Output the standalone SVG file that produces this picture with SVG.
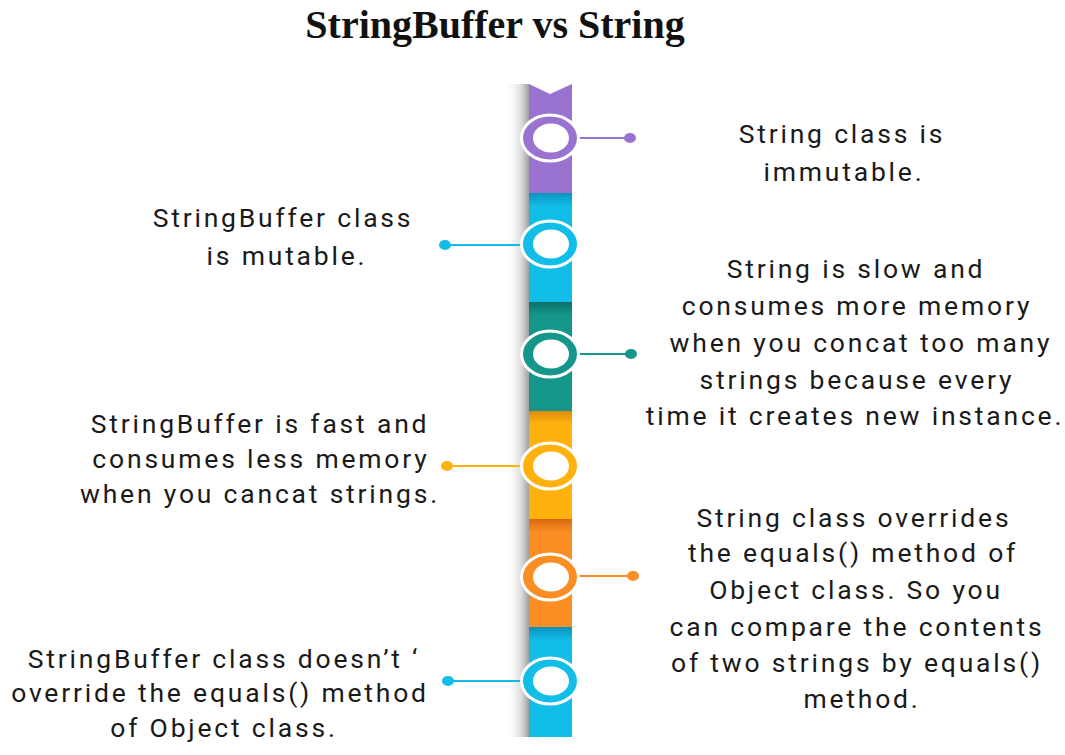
<svg xmlns="http://www.w3.org/2000/svg" width="1065" height="755" viewBox="0 0 1065 755">
<style>
  .title{font-family:"Liberation Serif","Times New Roman",serif;font-weight:bold;font-size:40px;fill:#111;}
  .lbl{font-family:Roboto,"Liberation Sans",sans-serif;font-size:26.5px;letter-spacing:2.8px;fill:#1a1a1a;text-anchor:middle;}
  .hole{fill:#fff;}
  .ring{stroke:#fff;stroke-width:3;}
  .con{stroke-width:2;fill:none;}
</style>
<defs>
  <linearGradient id="shadow" x1="0" y1="0" x2="1" y2="0">
    <stop offset="0" stop-color="#fff" stop-opacity="0"/>
    <stop offset="0.7" stop-color="#d8d8d8"/>
    <stop offset="1" stop-color="#a0a0a0"/>
  </linearGradient>
  <linearGradient id="gP" x1="0" y1="0" x2="0" y2="1"><stop offset="0" stop-color="#9a72cf"/><stop offset="1" stop-color="#9a72cf"/></linearGradient>
  <linearGradient id="gC" x1="0" y1="0" x2="0" y2="1"><stop offset="0" stop-color="#0a92bd"/><stop offset="0.12" stop-color="#12bde8"/><stop offset="1" stop-color="#12bde8"/></linearGradient>
  <linearGradient id="gT" x1="0" y1="0" x2="0" y2="1"><stop offset="0" stop-color="#0d6f67"/><stop offset="0.12" stop-color="#14968b"/><stop offset="1" stop-color="#14968b"/></linearGradient>
  <linearGradient id="gY" x1="0" y1="0" x2="0" y2="1"><stop offset="0" stop-color="#e08a06"/><stop offset="0.12" stop-color="#ffb20e"/><stop offset="1" stop-color="#ffb20e"/></linearGradient>
  <linearGradient id="gO" x1="0" y1="0" x2="0" y2="1"><stop offset="0" stop-color="#d96a10"/><stop offset="0.12" stop-color="#fa8d24"/><stop offset="1" stop-color="#fa8d24"/></linearGradient>
</defs>
<rect width="1065" height="755" fill="#fff"/>
<text class="title" x="495" y="38" text-anchor="middle">StringBuffer vs String</text>

<g id="timeline">
  <rect x="505" y="84" width="24" height="653" fill="url(#shadow)"/>
  <path d="M529 84 L550 94 L572 84 L572 193 L529 193 Z" fill="url(#gP)"/>
  <rect x="529" y="193" width="43" height="109" fill="url(#gC)"/>
  <rect x="529" y="302" width="43" height="109" fill="url(#gT)"/>
  <rect x="529" y="411" width="43" height="108" fill="url(#gY)"/>
  <rect x="529" y="519" width="43" height="108" fill="url(#gO)"/>
  <rect x="529" y="627" width="43" height="110" fill="url(#gC)"/>
</g>

<g id="connectors">
  <line class="con" x1="578" y1="138" x2="630" y2="138" stroke="#9a72cf"/>
  <ellipse cx="630" cy="138" rx="6" ry="5" fill="#9a72cf"/>
  <line class="con" x1="444" y1="245" x2="522" y2="245" stroke="#12bde8"/>
  <ellipse cx="445" cy="245" rx="6" ry="5" fill="#12bde8"/>
  <line class="con" x1="578" y1="354" x2="631" y2="354" stroke="#14968b"/>
  <ellipse cx="631" cy="354" rx="6" ry="5" fill="#14968b"/>
  <line class="con" x1="447" y1="466" x2="522" y2="466" stroke="#ffb20e"/>
  <ellipse cx="447" cy="466" rx="6" ry="5" fill="#ffb20e"/>
  <line class="con" x1="578" y1="576" x2="633" y2="576" stroke="#fa8d24"/>
  <ellipse cx="633" cy="576" rx="6" ry="5" fill="#fa8d24"/>
  <line class="con" x1="448" y1="681" x2="522" y2="681" stroke="#12bde8"/>
  <ellipse cx="448" cy="681" rx="6" ry="5" fill="#12bde8"/>
</g>

<g id="node1">
  <ellipse class="ring" cx="550" cy="138" rx="28.5" ry="23" fill="#9a72cf"/>
  <ellipse class="hole" cx="551" cy="138" rx="18" ry="14.5"/>
  <text class="lbl"><tspan x="842" y="143">String class is</tspan><tspan x="844" y="181">immutable.</tspan></text>
</g>
<g id="node2">
  <ellipse class="ring" cx="550" cy="244" rx="28.5" ry="23" fill="#12bde8"/>
  <ellipse class="hole" cx="551" cy="244" rx="18" ry="14.5"/>
  <text class="lbl"><tspan x="283" y="227">StringBuffer class</tspan><tspan x="287" y="265">is mutable.</tspan></text>
</g>
<g id="node3">
  <ellipse class="ring" cx="550" cy="354" rx="28.5" ry="23" fill="#14968b"/>
  <ellipse class="hole" cx="551" cy="354" rx="18" ry="14.5"/>
  <text class="lbl"><tspan x="856" y="278">String is slow and</tspan><tspan x="857" y="315">consumes more memory</tspan><tspan x="861" y="352">when you concat too many</tspan><tspan x="857" y="389">strings because every</tspan><tspan x="855" y="425">time it creates new instance.</tspan></text>
</g>
<g id="node4">
  <ellipse class="ring" cx="550" cy="466" rx="28.5" ry="23" fill="#ffb20e"/>
  <ellipse class="hole" cx="551" cy="466" rx="18" ry="14.5"/>
  <text class="lbl"><tspan x="260" y="433">StringBuffer is fast and</tspan><tspan x="261" y="468">consumes less memory</tspan><tspan x="260" y="503">when you cancat strings.</tspan></text>
</g>
<g id="node5">
  <ellipse class="ring" cx="550" cy="577" rx="28.5" ry="23" fill="#fa8d24"/>
  <ellipse class="hole" cx="551" cy="577" rx="18" ry="14.5"/>
  <text class="lbl"><tspan x="854" y="527">String class overrides</tspan><tspan x="853" y="562">the equals() method of</tspan><tspan x="856" y="599">Object class. So you</tspan><tspan x="857" y="636">can compare the contents</tspan><tspan x="857" y="672">of two strings by equals()</tspan><tspan x="862" y="708">method.</tspan></text>
</g>
<g id="node6">
  <ellipse class="ring" cx="550" cy="681" rx="28.5" ry="23" fill="#12bde8"/>
  <ellipse class="hole" cx="551" cy="681" rx="18" ry="14.5"/>
  <text class="lbl"><tspan x="224" y="668">StringBuffer class doesn’t ‘</tspan><tspan x="220" y="702">override the equals() method</tspan><tspan x="224" y="737">of Object class.</tspan></text>
</g>
</svg>
